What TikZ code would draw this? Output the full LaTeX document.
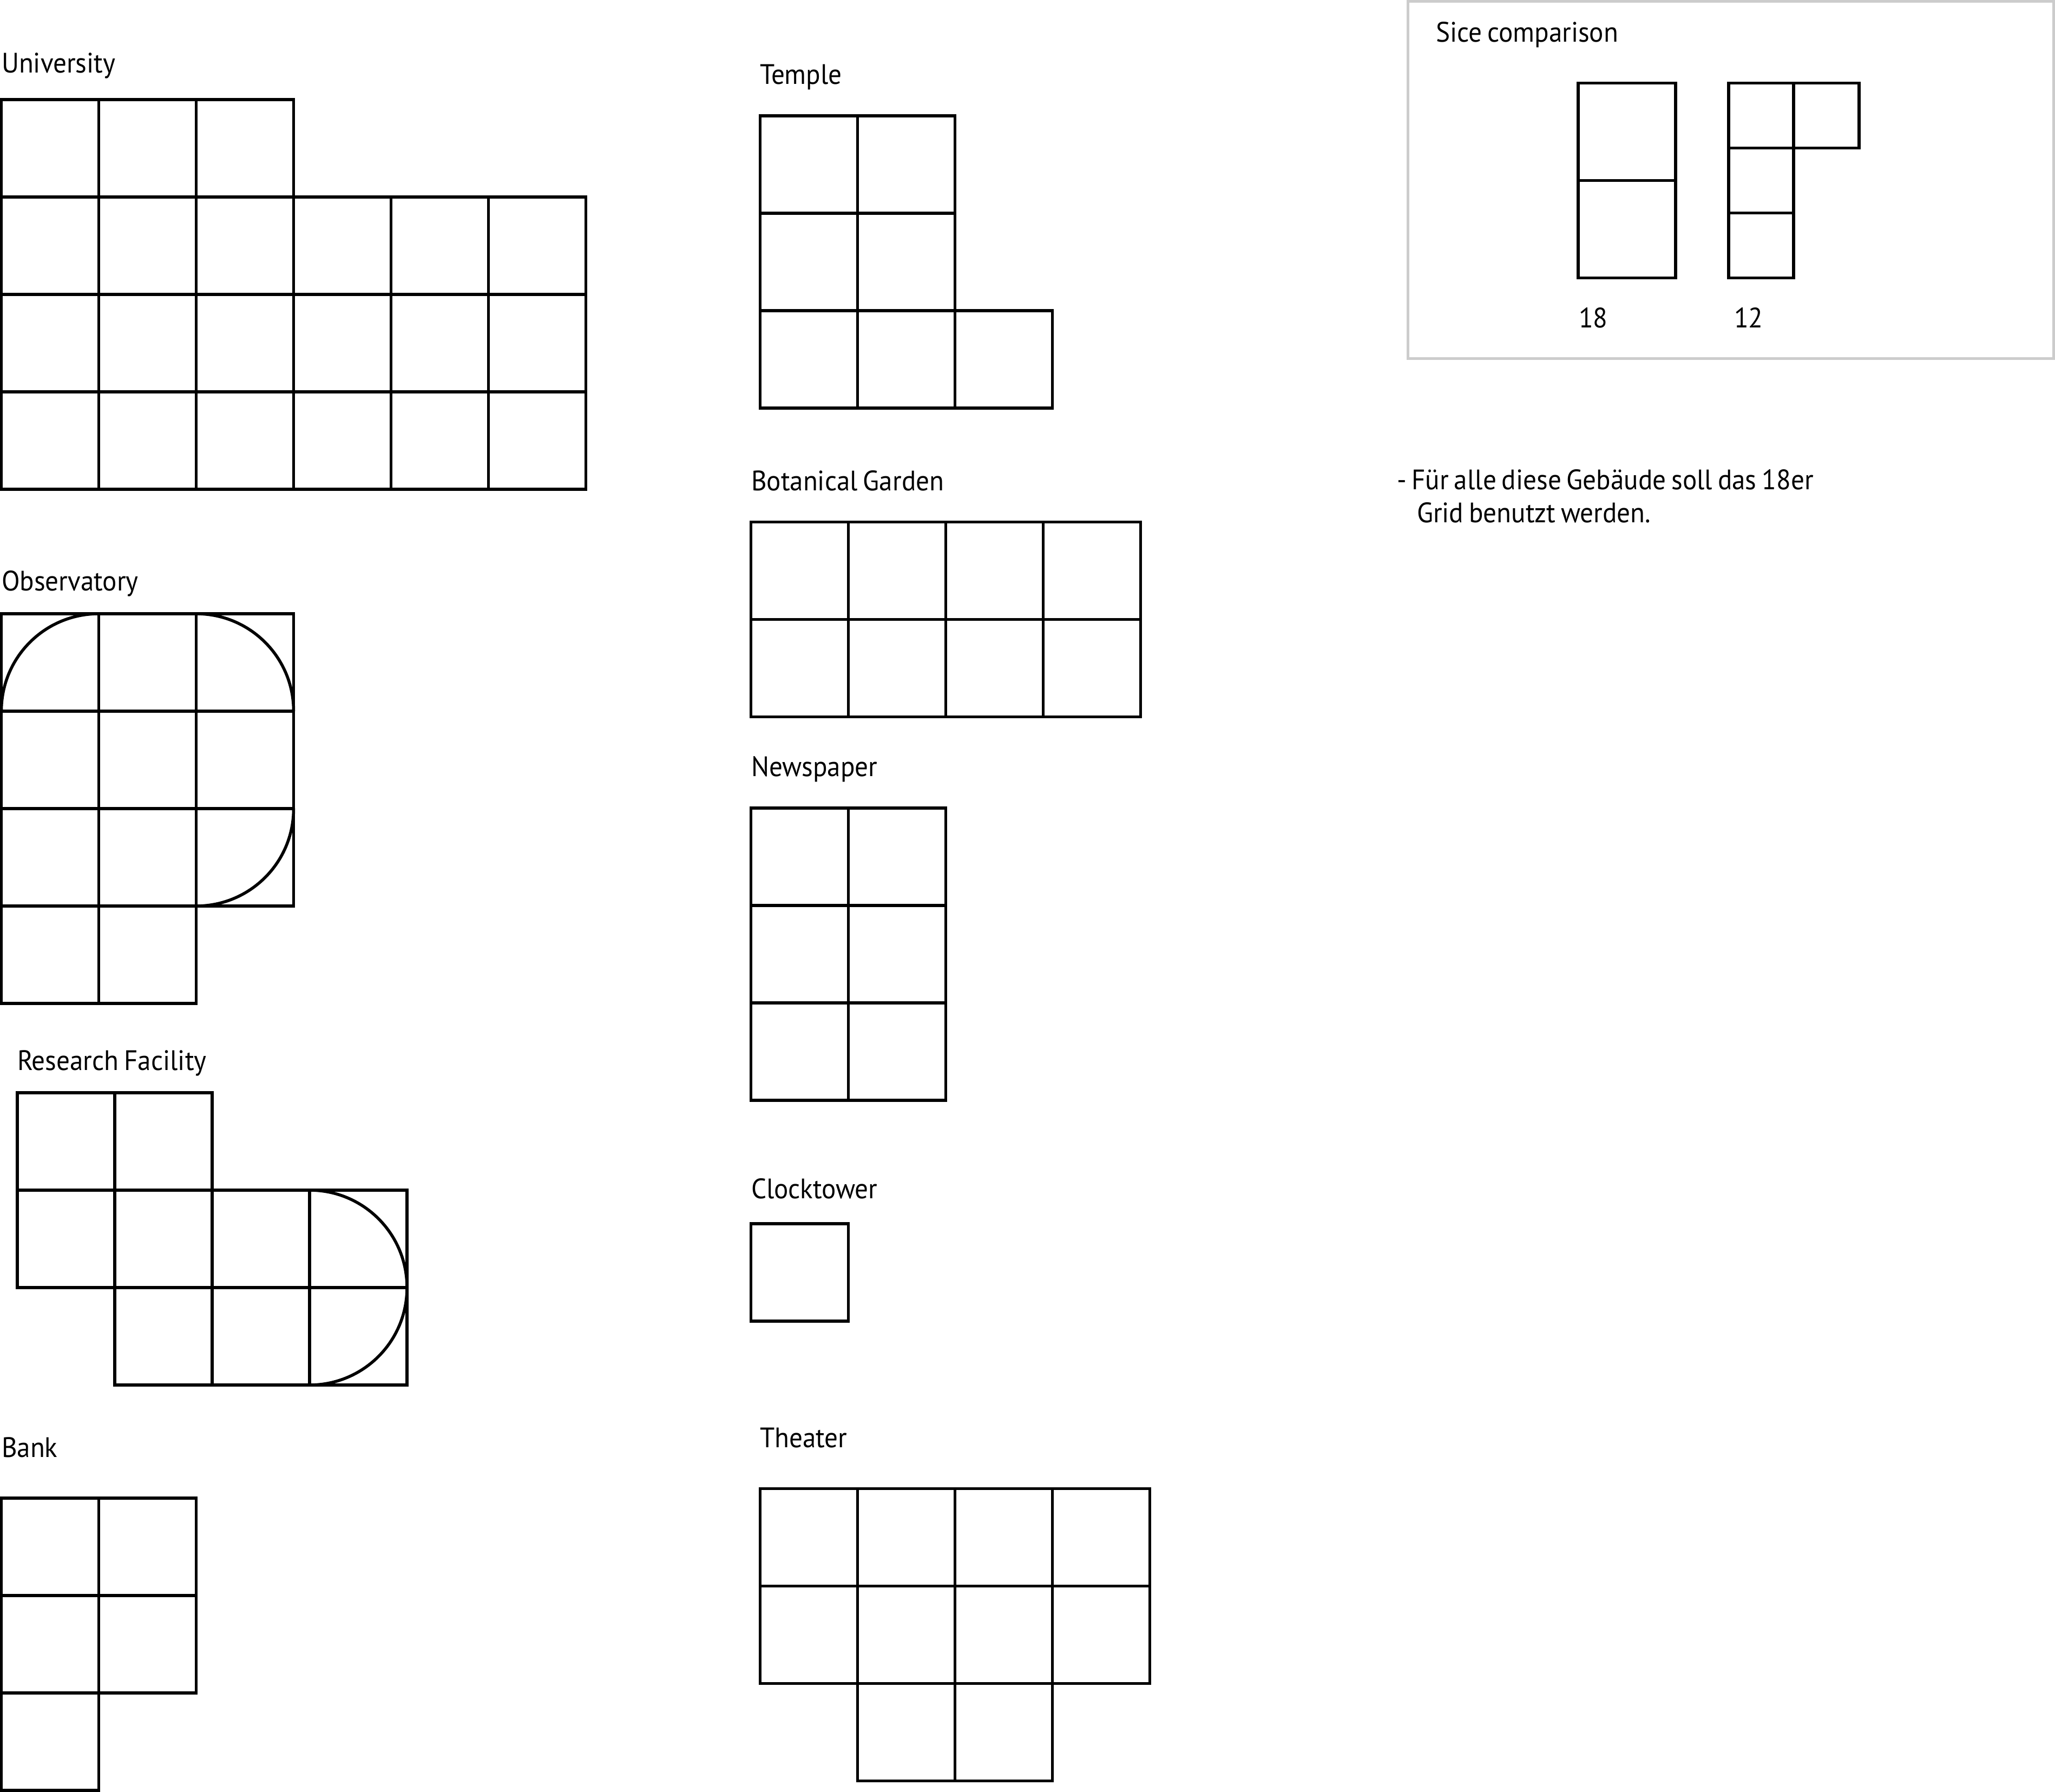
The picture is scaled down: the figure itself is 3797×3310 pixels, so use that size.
\documentclass[tikz,border=0pt]{standalone}
\usepackage{fontspec}
\setmainfont[FakeStretch=0.945,WordSpace=0.75]{PT Sans}
\newcommand{\gridcells}[4]{\foreach \c/\r in {#4} {\draw[cellline] ({#1+\c*#3},{#2+\r*#3}) rectangle ({#1+(\c+1)*#3},{#2+(\r+1)*#3});}}
\tikzset{
  cellline/.style={draw=black,line width=5.5pt,line join=miter},
  curveline/.style={draw=black,line width=5.5pt},
  framebox/.style={draw=black!20,line width=5pt},
  label/.style={anchor=base west,inner sep=0pt,outer sep=0pt,font=\fontsize{52}{62}\selectfont,text=black}
}
\begin{document}
\begin{tikzpicture}[x=1pt,y=-1pt]
\useasboundingbox (0,0) rectangle (3797,3310);
% University
\node[label] (university) at (3,135) {University};
\gridcells{2.5}{184}{180}{0/0,1/0,2/0,0/1,1/1,2/1,3/1,4/1,5/1,0/2,1/2,2/2,3/2,4/2,5/2,0/3,1/3,2/3,3/3,4/3,5/3}
% Observatory
\node[label] (observatory) at (3,1091) {Observatory};
\gridcells{2.5}{1134}{180}{0/0,1/0,2/0,0/1,1/1,2/1,0/2,1/2,2/2,0/3,1/3}
\draw[curveline] (2.5,1314) .. controls (2.5,1214.6) and (83,1134) .. (182.5,1134);
\draw[curveline] (362.5,1134) .. controls (462,1134) and (542.5,1214.6) .. (542.5,1314);
\draw[curveline] (542.5,1494) .. controls (542.5,1593.4) and (462,1674) .. (362.5,1674);
% Research Facility
\node[label] (research) at (32,1977) {Research Facility};
\gridcells{32}{2019}{180}{0/0,1/0,0/1,1/1,2/1,3/1,1/2,2/2,3/2}
\draw[curveline] (572,2199) .. controls (671.4,2199) and (752,2279.6) .. (752,2379) .. controls (752,2478.4) and (671.4,2559) .. (572,2559);
% Bank
\node[label] (bank) at (3,2692) {Bank};
\gridcells{2.5}{2768}{180}{0/0,1/0,0/1,1/1,0/2}
% Temple
\node[label] (temple) at (1404,156) {Temple};
\gridcells{1404.5}{214}{180}{0/0,1/0,0/1,1/1,0/2,1/2,2/2}
% Botanical Garden
\node[label] (botanical) at (1388,906) {Botanical Garden};
\gridcells{1387.5}{964.5}{180}{0/0,1/0,2/0,3/0,0/1,1/1,2/1,3/1}
% Newspaper
\node[label] (newspaper) at (1388,1434) {Newspaper};
\gridcells{1387.5}{1493}{180}{0/0,1/0,0/1,1/1,0/2,1/2}
% Clocktower
\node[label] (clocktower) at (1388,2214) {Clocktower};
\gridcells{1387.5}{2261}{180}{0/0}
% Theater
\node[label] (theater) at (1404,2674) {Theater};
\gridcells{1404.5}{2750.5}{180}{0/0,1/0,2/0,3/0,0/1,1/1,2/1,3/1,1/2,2/2}
% Size comparison
\draw[framebox] (2601,2.5) rectangle (3794.5,662.5);
\node[label] (sice) at (2653,78) {Sice comparison};
\gridcells{2916}{153.5}{180}{0/0,0/1}
\draw[cellline] (3194,153.5) rectangle (3314,273.5);
\draw[cellline] (3314,153.5) rectangle (3435,273.5);
\draw[cellline] (3194,273.5) rectangle (3314,393.5);
\draw[cellline] (3194,393.5) rectangle (3314,513.5);
\node[label] (n18) at (2917,605) {18};
\node[label] (n12) at (3204,605) {12};
\node[label] (note1) at (2581,904) {- Für alle diese Gebäude soll das 18er};
\node[label] (note2) at (2618,965) {Grid benutzt werden.};
\end{tikzpicture}
\end{document}
